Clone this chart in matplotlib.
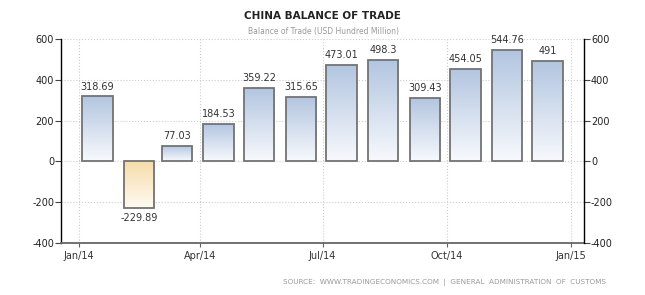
from matplotlib import pyplot as plt
import matplotlib.dates as mdates
from matplotlib.colors import LinearSegmentedColormap
import numpy as np
import datetime as dt

# Data: China balance of trade, USD hundred million
months = [dt.date(2014, m, 15) for m in range(1, 13)]
values = [318.69, -229.89, 77.03, 184.53, 359.22, 315.65,
          473.01, 498.3, 309.43, 454.05, 544.76, 491]
yticks = [-400, -200, 0, 200, 400, 600]

plt.rcParams['font.family'] = ['DejaVu Sans']
plt.rcParams['axes.unicode_minus'] = False

fig = plt.figure(figsize=(6.45, 2.95), dpi=100)
ax = fig.add_axes([61/645, 52/295, 523/645, 204/295])

xnum = mdates.date2num(months)
width = 22.7

# Outline bars
bars = ax.bar(xnum, values, width=width, facecolor='none',
              edgecolor='#737373', linewidth=1.3, zorder=3)

# Vertical gradient fill in each bar
grad = np.linspace(0, 1, 100).reshape(-1, 1)
blue = LinearSegmentedColormap.from_list('b', ['#f7f9fd', '#b2c5e0'])
peach = LinearSegmentedColormap.from_list('p', ['#fffaf1', '#f6dcaa'])
for b, v in zip(bars, values):
    x0 = b.get_x()
    x1 = x0 + b.get_width()
    if v >= 0:
        im = ax.imshow(grad, extent=[x0, x1, 0, v], origin='lower',
                       aspect='auto', cmap=blue, zorder=2)
    else:
        im = ax.imshow(grad, extent=[x0, x1, v, 0], origin='lower',
                       aspect='auto', cmap=peach, zorder=2)
    im.set_clip_path(b)

# Value labels
for x, v in zip(xnum, values):
    if v >= 0:
        ax.annotate('{:g}'.format(v), (x, v), xytext=(0, 3.5),
                    textcoords='offset points', ha='center', va='bottom',
                    fontsize=7, color='#333333')
    else:
        ax.annotate('{:g}'.format(v), (x, v), xytext=(0, -3.5),
                    textcoords='offset points', ha='center', va='top',
                    fontsize=7, color='#333333')

ax.set_xlim(mdates.date2num(dt.date(2013, 12, 19)),
            mdates.date2num(dt.date(2015, 1, 11)))
ax.set_ylim(-400, 600)
ax.set_yticks(yticks)

ax.xaxis.set_major_locator(mdates.MonthLocator(bymonth=[1, 4, 7, 10]))
ax.xaxis.set_major_formatter(mdates.DateFormatter('%b/%y'))

ax.grid(True, linestyle=':', color='#cccccc', linewidth=0.8, zorder=0)
ax.set_axisbelow(True)

for s in ['top', 'right']:
    ax.spines[s].set_visible(False)
ax.spines['left'].set_color('black')
ax.spines['left'].set_linewidth(1.0)
ax.spines['bottom'].set_color('#666666')
ax.spines['bottom'].set_linewidth(1.3)

ax.tick_params(axis='y', length=4, width=0.8, color='#444444',
               labelsize=7, labelcolor='#222222', pad=1)
ax.tick_params(axis='x', length=3, width=0.8, color='#666666',
               labelsize=7, labelcolor='#333333', pad=3)

# Right axis
ax2 = ax.twinx()
ax2.set_ylim(-400, 600)
ax2.set_yticks(yticks)
for s in ['top', 'left', 'bottom']:
    ax2.spines[s].set_visible(False)
ax2.spines['right'].set_color('black')
ax2.spines['right'].set_linewidth(1.0)
ax2.tick_params(axis='y', length=4, width=0.8, color='#444444',
                labelsize=7, labelcolor='#222222', pad=1)

# Titles
fig.text(322/645, 1 - 15.7/295, 'CHINA BALANCE OF TRADE', ha='center',
         va='center', fontsize=7.5, fontweight='bold', color='#222222')
fig.text(323/645, 1 - 31.7/295, 'Balance of Trade (USD Hundred Million)',
         ha='center', va='center', fontsize=5.5, color='#999999')
fig.text(606/645, 1 - 283/295,
         'SOURCE:  WWW.TRADINGECONOMICS.COM  |  GENERAL  ADMINISTRATION  OF  CUSTOMS',
         ha='right', va='center', fontsize=5.2, color='#999999')

plt.savefig('out.png', dpi=100)
